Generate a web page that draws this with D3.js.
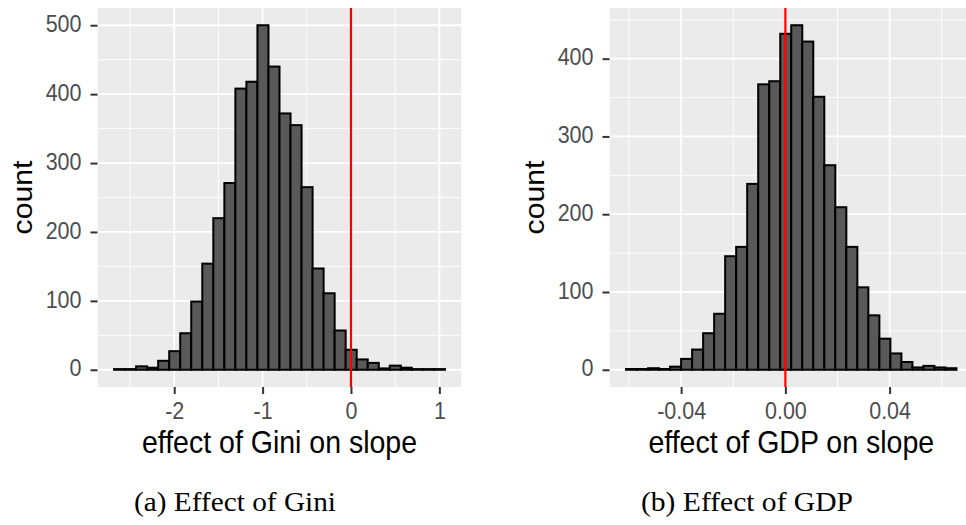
<!DOCTYPE html>
<html>
<head>
<meta charset="utf-8">
<script src="https://cdn.jsdelivr.net/npm/d3@7"></script>
<style>
  html, body { margin: 0; padding: 0; background: #ffffff; }
  svg { display: block; }
</style>
</head>
<body>
<svg id="chart" width="966" height="525"></svg>
<script>
// Bootstrap distributions of two coefficients, 30 bins each.
const giniCounts = [1, 1, 5, 3, 13, 27, 53, 99, 154, 220, 271, 408, 418, 500, 440,
                    372, 355, 265, 147, 111, 57, 29, 15, 10, 2, 6, 3, 1, 1, 1];
const giniBinStart = -2.681;
const giniBinWidth = 0.12481;

const gdpCounts = [1, 1, 2, 1, 4, 14, 26, 47, 72, 146, 158, 239, 367, 371, 432,
                   443, 422, 351, 263, 209, 158, 106, 70, 40, 21, 10, 3, 5, 3, 2];
const gdpBinStart = -0.06115;
const gdpBinWidth = 0.004227;

// Axis breaks
const giniXMajor = [-2, -1, 0, 1];
const giniXMinor = [-2.5, -1.5, -0.5, 0.5];
const giniXLabels = ["-2", "-1", "0", "1"];
const giniYMajor = [0, 100, 200, 300, 400, 500];
const giniYMinor = [50, 150, 250, 350, 450];

const gdpXMajor = [-0.04, 0, 0.04];
const gdpXMinor = [-0.06, -0.02, 0.02, 0.06];
const gdpXLabels = ["-0.04", "0.00", "0.04"];
const gdpYMajor = [0, 100, 200, 300, 400];
const gdpYMinor = [50, 150, 250, 350, 450];

const referenceValue = [0];

const svg = d3.select("#chart");
svg.append("rect").attr("width", 966).attr("height", 525).attr("fill", "#ffffff");

const sansFont = "'Liberation Sans', Arial, Helvetica, sans-serif";
const serifFont = "'Liberation Serif', 'Times New Roman', serif";
const stretchY = 1.08; // text glyphs are drawn slightly taller than wide

function drawPanel(cfg) {
  const bins = cfg.counts.map((c, i) => ({
    x0: cfg.start + i * cfg.width,
    x1: cfg.start + (i + 1) * cfg.width,
    count: c
  }));
  const lo = cfg.start, hi = cfg.start + cfg.counts.length * cfg.width;
  const padX = (hi - lo) * 0.05;
  const maxC = d3.max(cfg.counts);

  const x = d3.scaleLinear().domain([lo - padX, hi + padX]).range([cfg.left, cfg.right]);
  const y = d3.scaleLinear().domain([-0.05 * maxC, 1.05 * maxC]).range([cfg.bottom, cfg.top]);

  const g = svg.append("g");
  const clipId = "clip-" + cfg.id;
  g.append("clipPath").attr("id", clipId)
    .append("rect")
    .attr("x", cfg.left).attr("y", cfg.top)
    .attr("width", cfg.right - cfg.left).attr("height", cfg.bottom - cfg.top);

  const panel = g.append("g").attr("clip-path", `url(#${clipId})`);
  panel.append("rect")
    .attr("x", cfg.left).attr("y", cfg.top)
    .attr("width", cfg.right - cfg.left).attr("height", cfg.bottom - cfg.top)
    .attr("fill", "#EBEBEB");

  // minor grid
  panel.selectAll(".vminor").data(cfg.xMinor).join("line")
    .attr("x1", d => x(d)).attr("x2", d => x(d))
    .attr("y1", cfg.top).attr("y2", cfg.bottom)
    .attr("stroke", "#ffffff").attr("stroke-width", 0.9);
  panel.selectAll(".hminor").data(cfg.yMinor).join("line")
    .attr("x1", cfg.left).attr("x2", cfg.right)
    .attr("y1", d => y(d)).attr("y2", d => y(d))
    .attr("stroke", "#ffffff").attr("stroke-width", 0.9);
  // major grid
  panel.selectAll(".vmajor").data(cfg.xMajor).join("line")
    .attr("x1", d => x(d)).attr("x2", d => x(d))
    .attr("y1", cfg.top).attr("y2", cfg.bottom)
    .attr("stroke", "#ffffff").attr("stroke-width", 1.8);
  panel.selectAll(".hmajor").data(cfg.yMajor).join("line")
    .attr("x1", cfg.left).attr("x2", cfg.right)
    .attr("y1", d => y(d)).attr("y2", d => y(d))
    .attr("stroke", "#ffffff").attr("stroke-width", 1.8);

  // histogram bars
  panel.selectAll(".bar").data(bins).join("rect")
    .attr("x", d => x(d.x0))
    .attr("width", d => x(d.x1) - x(d.x0))
    .attr("y", d => y(d.count))
    .attr("height", d => y(0) - y(d.count))
    .attr("fill", "#595959")
    .attr("stroke", "#000000")
    .attr("stroke-width", 2);

  // reference line
  panel.selectAll(".vref").data(referenceValue).join("line")
    .attr("x1", d => x(d)).attr("x2", d => x(d))
    .attr("y1", cfg.top).attr("y2", cfg.bottom)
    .attr("stroke", "#FF0000").attr("stroke-width", 2.2);

  // x axis
  const xAxis = d3.axisBottom(x)
    .tickValues(cfg.xMajor)
    .tickFormat((d, i) => cfg.xLabels[i])
    .tickSize(7).tickPadding(4);
  const xg = g.append("g").attr("transform", `translate(0,${cfg.bottom})`).call(xAxis);
  xg.select(".domain").remove();
  xg.selectAll(".tick line").attr("stroke", "#333333").attr("stroke-width", 2);
  xg.selectAll(".tick text")
    .attr("fill", "#4D4D4D")
    .style("font-family", sansFont).style("font-size", "21.5px")
    .attr("dy", null).attr("y", 0)
    .attr("transform", `translate(0,31.5) scale(1,${stretchY})`);

  // y axis
  const yAxis = d3.axisLeft(y)
    .tickValues(cfg.yMajor)
    .tickFormat(d => String(d))
    .tickSize(7).tickPadding(9);
  const yg = g.append("g").attr("transform", `translate(${cfg.left},0)`).call(yAxis);
  yg.select(".domain").remove();
  yg.selectAll(".tick line").attr("stroke", "#333333").attr("stroke-width", 2);
  yg.selectAll(".tick text")
    .attr("fill", "#4D4D4D")
    .style("font-family", sansFont).style("font-size", "21.5px")
    .attr("x", 0).attr("dy", null).attr("y", 0)
    .attr("transform", `translate(-16,6.2) scale(1,${stretchY})`);

  // axis titles
  const cx = (cfg.left + cfg.right) / 2;
  g.append("text")
    .attr("transform", `translate(${cx},453) scale(1,${stretchY})`)
    .attr("text-anchor", "middle")
    .attr("fill", "#000000")
    .style("font-family", sansFont).style("font-size", "28.5px")
    .text(cfg.xTitle);
  g.append("text")
    .attr("transform", `translate(${cfg.left - 65.5},${(cfg.top + cfg.bottom) / 2}) rotate(-90) scale(${stretchY},1)`)
    .attr("text-anchor", "middle")
    .attr("fill", "#000000")
    .style("font-family", sansFont).style("font-size", "28px")
    .text("count");

  // sub-figure caption
  g.append("text")
    .attr("transform", `translate(${cfg.captionX},511) scale(1,1.05)`)
    .attr("fill", "#000000")
    .attr("textLength", cfg.captionLen)
    .attr("lengthAdjust", "spacingAndGlyphs")
    .style("font-family", serifFont).style("font-size", "26px")
    .text(cfg.caption);
}

drawPanel({
  id: "gini", counts: giniCounts, start: giniBinStart, width: giniBinWidth,
  xMajor: giniXMajor, xMinor: giniXMinor, xLabels: giniXLabels,
  yMajor: giniYMajor, yMinor: giniYMinor,
  left: 97.5, right: 461.5, top: 8, bottom: 387,
  xTitle: "effect of Gini on slope",
  caption: "(a) Effect of Gini", captionX: 134, captionLen: 202
});

drawPanel({
  id: "gdp", counts: gdpCounts, start: gdpBinStart, width: gdpBinWidth,
  xMajor: gdpXMajor, xMinor: gdpXMinor, xLabels: gdpXLabels,
  yMajor: gdpYMajor, yMinor: gdpYMinor,
  left: 609.5, right: 973, top: 8, bottom: 387,
  xTitle: "effect of GDP on slope",
  caption: "(b) Effect of GDP", captionX: 641, captionLen: 212
});
</script>
</body>
</html>
